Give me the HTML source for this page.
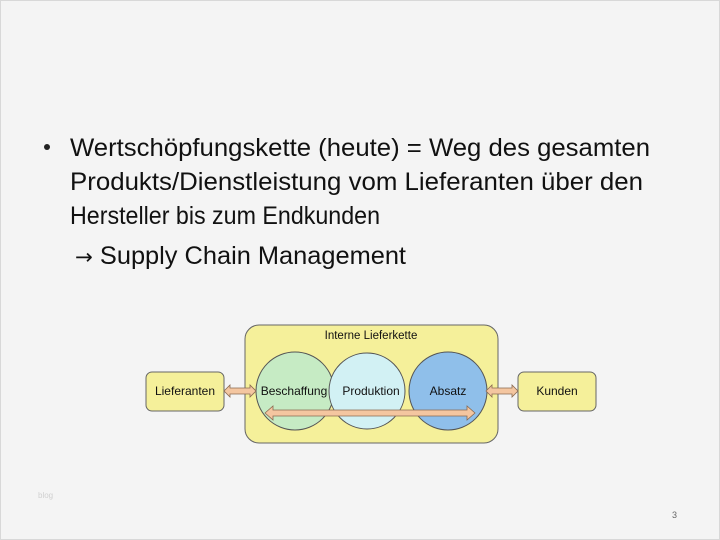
<!DOCTYPE html>
<html><head><meta charset="utf-8"><style>
html,body{margin:0;padding:0;background:#f5f5f5;}
svg{display:block;}
</style></head><body>
<svg width="720" height="540" viewBox="0 0 720 540" xmlns="http://www.w3.org/2000/svg" font-family="Liberation Sans, sans-serif">
<rect x="0" y="0" width="720" height="540" fill="#f4f4f4"/>
<rect x="0.5" y="0.5" width="719" height="539" fill="none" stroke="#d8d8d8"/>
<g fill="#111" font-size="25">
<circle cx="47" cy="147" r="3" fill="#222"/>
<text x="70" y="156" textLength="580" lengthAdjust="spacingAndGlyphs">Wertschöpfungskette (heute) =  Weg des gesamten</text>
<text x="70" y="190" textLength="573" lengthAdjust="spacingAndGlyphs">Produkts/Dienstleistung vom Lieferanten über den</text>
<text x="70" y="224" textLength="310" lengthAdjust="spacingAndGlyphs">Hersteller bis zum Endkunden</text>
<text x="75" y="264" textLength="331" lengthAdjust="spacingAndGlyphs"><tspan font-family="DejaVu Sans" font-size="21">→</tspan> Supply Chain Management</text>
</g>
<rect x="245" y="325" width="253" height="118" rx="14" fill="#f5f09a" stroke="#666" stroke-width="1"/>
<text x="371" y="339" font-size="11.5" text-anchor="middle" fill="#111">Interne Lieferkette</text>
<rect x="146" y="372" width="78" height="39" rx="6" fill="#f5f09a" stroke="#666"/>
<text x="185" y="395" font-size="12" text-anchor="middle" fill="#111">Lieferanten</text>
<rect x="518" y="372" width="78" height="39" rx="6" fill="#f5f09a" stroke="#666"/>
<text x="557" y="395" font-size="12" text-anchor="middle" fill="#111">Kunden</text>
<circle cx="295" cy="391" r="39" fill="#c6ebc4" stroke="#555"/>
<circle cx="448" cy="391" r="39" fill="#8fbfea" stroke="#555"/>
<circle cx="367" cy="391" r="38" fill="#d2f1f4" stroke="#555"/>
<text x="294" y="395" font-size="12" text-anchor="middle" fill="#111">Beschaffung</text>
<text x="371" y="395" font-size="12" text-anchor="middle" fill="#111">Produktion</text>
<text x="448" y="395" font-size="12" text-anchor="middle" fill="#111">Absatz</text>
<g fill="#f4c6a0" stroke="#8a6a50" stroke-width="0.8">
<polygon points="224,391 230,385 230,388 250,388 250,385 256,391 250,397 250,394 230,394 230,397"/>
<polygon points="486,391 492,385 492,388 512,388 512,385 518,391 512,397 512,394 492,394 492,397"/>
<polygon points="265,413 273,406 273,410 467,410 467,406 475,413 467,420 467,416 273,416 273,420"/>
</g>
<text x="38" y="498" font-size="8" fill="#d0d0d0">blog</text>
<text x="672" y="518" font-size="9" fill="#666">3</text>
</svg>
</body></html>
